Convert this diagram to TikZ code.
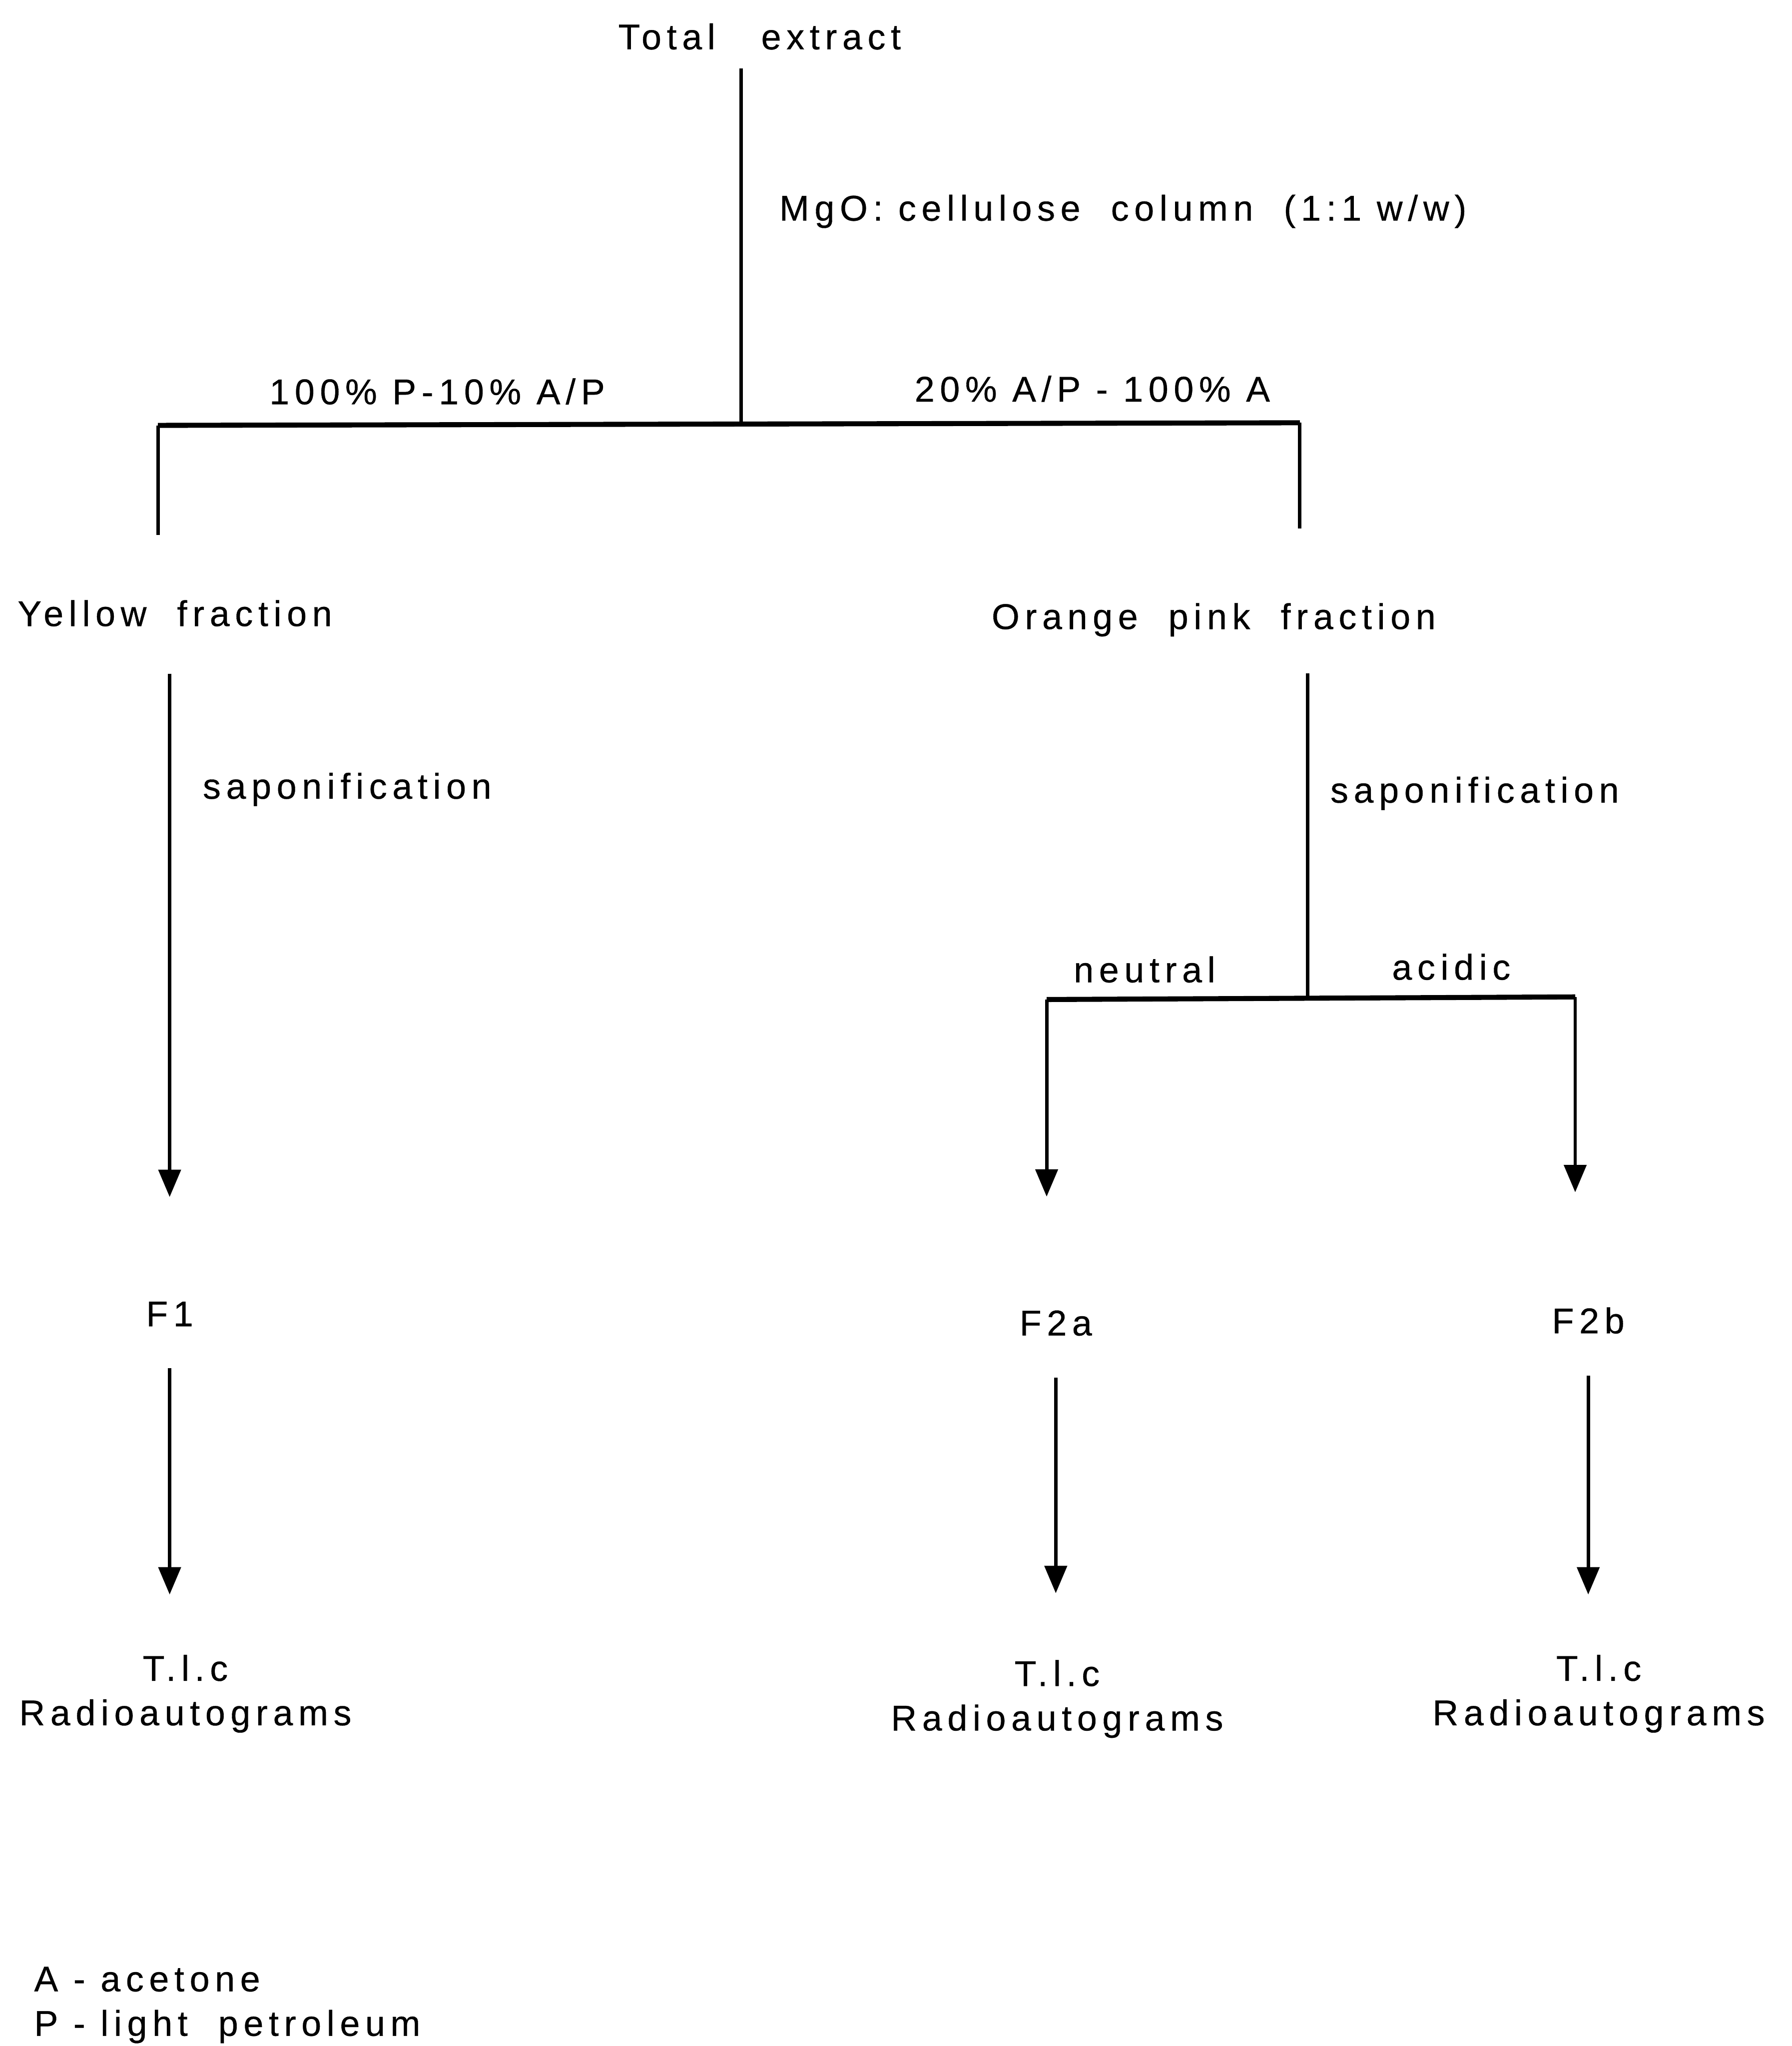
\documentclass[tikz,border=0pt]{standalone}
\usepackage{fontspec}
\setmainfont[LetterSpace=15, FakeBold=0.5]{Liberation Sans}
\usetikzlibrary{arrows.meta,positioning}

\begin{document}
\begin{tikzpicture}[
    lbl/.style={inner sep=1pt, font=\fontsize{7.8}{9.7}\selectfont},
    stem/.style={line width=0.75pt},
    bar/.style={line width=1.1pt},
    arrow/.style={-{Triangle[length=2.1mm, width=1.7mm]}, line width=0.75pt}
]
\useasboundingbox (0,0) rectangle (13.73,-15.68);

% Column separation
\node[lbl] (total) at (5.82,-0.28) {Total\ \ \ extract};
\node[lbl, anchor=west] (mgo) at (5.93,-1.62) {MgO:\ cellulose\ \ column\ \ (1:1 w/w)};
\coordinate (split) at (5.68,-3.25);
\draw[stem, shorten <=1mm] (total.south -| split) -- (split);

% Eluted fractions
\coordinate (yl) at (1.21,-3.26);
\coordinate (or) at (9.96,-3.24);
\coordinate (yend) at (1.21,-4.10);
\coordinate (oend) at (9.96,-4.05);
\draw[bar] (yl) -- (or);
\draw[stem] (yl) -- (yend);
\draw[stem] (or) -- (oend);
\node[lbl] (elu1) at (3.35,-3.00) {100\% P-10\% A/P};
\node[lbl] (elu2) at (8.37,-2.98) {20\% A/P - 100\% A};

\node[lbl] (yellow) at (1.34,-4.70) {Yellow\ \ fraction};
\node[lbl] (orange) at (9.30,-4.75) {Orange\ \ pink\ \ fraction};

% Saponification
\node[lbl] (F1) at (1.30,-10.07) {F1};
\node[lbl] (F2a) at (8.09,-10.14) {F2a};
\node[lbl] (F2b) at (12.17,-10.12) {F2b};
\node[lbl] (sap1) at (2.66,-6.05) {saponification};
\node[lbl] (sap2) at (11.30,-6.08) {saponification};

\draw[arrow, shorten <=3.2mm, shorten >=7.6mm] (F1.north |- yellow.south) -- (F1.north);

\coordinate (split2) at (10.02,-7.65);
\coordinate (nl) at (8.02,-7.66);
\coordinate (ar) at (12.07,-7.64);
\draw[stem, shorten <=2.4mm] (orange.south -| split2) -- (split2);
\draw[bar] (nl) -- (ar);
\draw[arrow, shorten >=8.3mm] (nl) -- (nl |- F2a.north);
\draw[arrow, shorten >=8.4mm] (ar) -- (ar |- F2b.north);
\node[lbl] (neutral) at (8.77,-7.43) {neutral};
\node[lbl] (acidic) at (11.12,-7.41) {acidic};

% T.l.c
\node[lbl, align=center, anchor=north] (res1) at (1.42,-12.64) {T.l.c\\Radioautograms};
\node[lbl, align=center, anchor=north] (res2) at (8.10,-12.68) {T.l.c\\Radioautograms};
\node[lbl, align=center, anchor=north] (res3) at (12.25,-12.64) {T.l.c\\Radioautograms};
\draw[arrow, shorten <=2.8mm, shorten >=4.2mm] (F1.south) -- (F1.south |- res1.north);
\draw[arrow, shorten <=2.8mm, shorten >=4.7mm] (F2a.south) -- (F2a.south |- res2.north);
\draw[arrow, shorten <=2.8mm, shorten >=4.2mm] (F2b.south) -- (F2b.south |- res3.north);

% Abbreviations
\node[lbl, align=left, anchor=north west] (legend) at (0.22,-15.03) {A - acetone\\P - light\ \ petroleum};

\end{tikzpicture}
\end{document}
